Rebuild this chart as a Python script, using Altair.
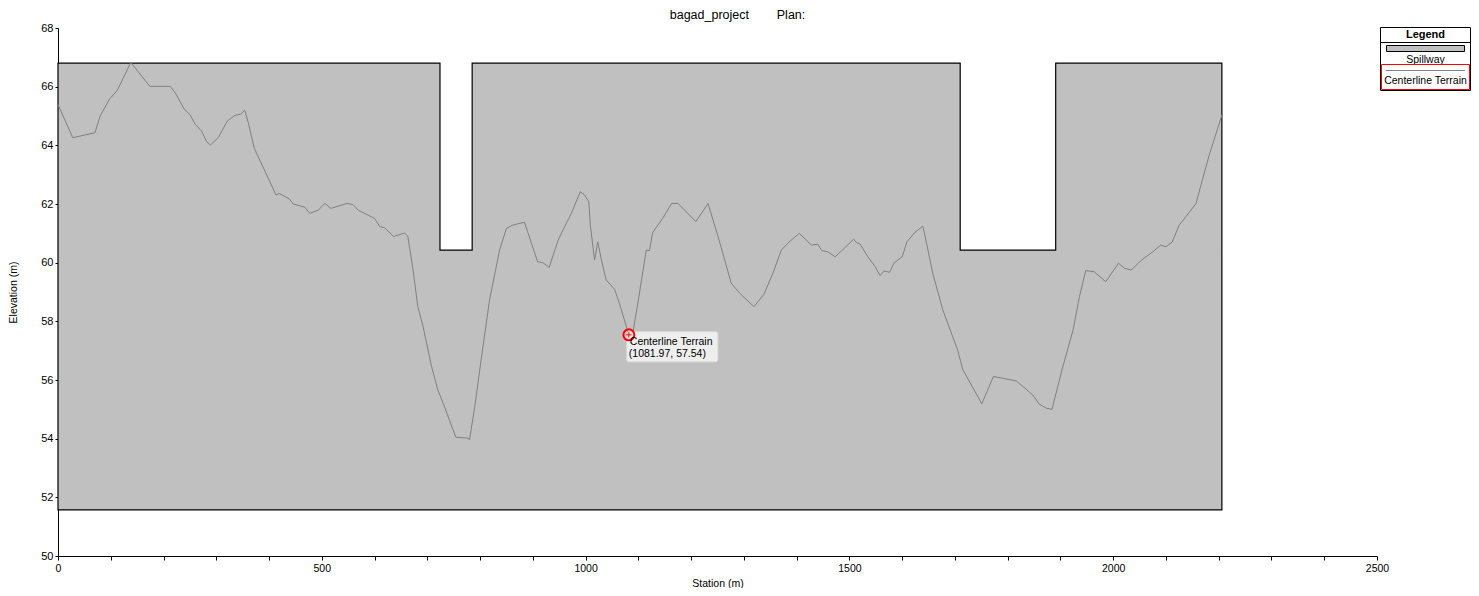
import altair as alt
import pandas as pd

# centerline terrain profile (station m, elevation m)
station = [0, 28, 70, 80, 98, 112, 138, 174, 213, 224, 239, 250, 260, 272, 282,
           289, 304, 321, 335, 346, 354, 361, 372, 400, 413, 419, 438, 446, 468,
           477, 493, 506, 517, 548, 559, 569, 600, 610, 619, 636, 657, 663, 673,
           682, 692, 708, 720, 730, 754, 777, 780, 790, 802, 818, 837, 850, 862,
           884, 890, 909, 919, 931, 948, 957, 973, 990, 998, 1006, 1009, 1017,
           1023, 1030, 1039, 1055, 1064, 1081.97, 1090, 1099, 1115, 1121, 1127,
           1146, 1163, 1175, 1209, 1232, 1254, 1276, 1292, 1319, 1338, 1355,
           1371, 1386, 1405, 1428, 1440, 1448, 1459, 1473, 1492, 1508, 1513,
           1520, 1535, 1549, 1558, 1566, 1576, 1585, 1600, 1609, 1624, 1639,
           1642, 1658, 1677, 1705, 1715, 1751, 1773, 1816, 1835, 1850, 1859,
           1873, 1884, 1903, 1924, 1936, 1948, 1964, 1986, 2010, 2021, 2034,
           2054, 2075, 2090, 2100, 2112, 2125, 2138, 2157, 2169, 2182, 2206]
elevation = [65.39, 64.26, 64.43, 65.0, 65.59, 65.86, 66.83, 66.01, 66.01, 65.74,
             65.24, 65.05, 64.72, 64.49, 64.12, 64.01, 64.27, 64.83, 65.02, 65.06,
             65.20, 64.75, 63.90, 62.82, 62.31, 62.36, 62.18, 62.00, 61.89, 61.68,
             61.79, 62.02, 61.85, 62.02, 61.98, 61.79, 61.51, 61.23, 61.19, 60.89,
             61.01, 60.90, 59.75, 58.50, 57.82, 56.46, 55.66, 55.21, 54.05, 54.02,
             53.96, 55.10, 56.69, 58.73, 60.43, 61.17, 61.28, 61.38, 61.06, 60.03,
             60.00, 59.84, 60.77, 61.11, 61.68, 62.42, 62.31, 62.08, 61.28, 60.09,
             60.71, 60.09, 59.41, 59.09, 58.62, 57.54, 57.65, 58.62, 60.43, 60.41,
             61.02, 61.51, 62.02, 62.02, 61.40, 62.02, 60.71, 59.30, 58.96, 58.50,
             58.92, 59.64, 60.43, 60.71, 61.00, 60.60, 60.63, 60.41, 60.37, 60.20,
             60.52, 60.80, 60.69, 60.64, 60.20, 59.86, 59.56, 59.72, 59.67, 60.00,
             60.20, 60.71, 61.03, 61.24, 61.03, 59.64, 58.39, 57.03, 56.35, 55.19,
             56.12, 55.97, 55.69, 55.44, 55.19, 55.04, 55.00, 56.35, 57.71, 58.84,
             59.73, 59.69, 59.35, 59.98, 59.81, 59.75, 60.09, 60.37, 60.60, 60.54,
             60.71, 61.28, 61.57, 62.02, 62.82, 63.67, 65.03]

# spillway section: top edge with the two notches, flat bottom
spill_station = [0, 724, 724, 785, 785, 1710, 1710, 1891, 1891, 2206]
spill_top = [66.8, 66.8, 60.43, 60.43, 66.8, 66.8, 60.43, 60.43, 66.8, 66.8]
spill_bottom = 51.57

# probed point on the terrain line
probe_station = 1081.97
probe_elev = 57.54
probe_name = "Centerline Terrain"

x_ticks = list(range(0, 2501, 100))
y_ticks = list(range(50, 69))

legend_title = "Legend"
legend_labels = ["Spillway", "Centerline Terrain"]

FONT = "Liberation Sans"

terrain = pd.DataFrame({"station": station, "elevation": elevation})
spill = pd.DataFrame({
    "station": spill_station,
    "top": spill_top,
    "bottom": spill_bottom,
})
probe = pd.DataFrame({
    "station": [probe_station],
    "elevation": [probe_elev],
    "name": [probe_name],
    "coords": [f"({probe_station:.2f}, {probe_elev:.2f})"],
})
one = pd.DataFrame({"k": [0]})

x_scale = alt.Scale(domain=[0, 2500], nice=False, zero=False)
y_scale = alt.Scale(domain=[50, 68], nice=False, zero=False)

x_axis = alt.Axis(
    values=x_ticks, format="d",
    labelExpr="datum.value % 500 == 0 ? datum.label : ''",
    title="Station (m)", tickSize=4, labelPadding=3, labelFlush=False,
    labelFontSize=10.5, grid=False, titleX=659.5, titleY=27,
    titleBaseline="middle",
)
y_axis = alt.Axis(
    values=y_ticks, format="d",
    labelExpr="datum.value % 2 == 0 ? datum.label : ''",
    title="Elevation (m)", tickSize=3, labelPadding=2, labelFlush=False,
    labelFontSize=11, grid=False, titleX=-44.5, titleY=264, titleAngle=270,
    titleBaseline="middle",
)

# spillway polygon (ties in station keep their input order)
spillway = alt.Chart(spill).mark_area(
    fill="#C0C0C0", stroke="black", strokeWidth=1.2, opacity=1
).encode(
    x=alt.X("station:Q", scale=x_scale, axis=x_axis),
    y=alt.Y("top:Q", scale=y_scale, axis=y_axis),
    y2="bottom:Q",
)

# terrain line
line = alt.Chart(terrain).mark_line(color="#808080", strokeWidth=1).encode(
    x="station:Q",
    y="elevation:Q",
)

# probe annotation
probe_box = alt.Chart(probe).mark_rect(
    fill="#F6F6F6", fillOpacity=0.85, stroke="#DDDDDD", strokeWidth=1,
    cornerRadius=2, xOffset=-2, x2Offset=89, yOffset=-3, y2Offset=27,
).encode(x="station:Q", x2="station:Q", y="elevation:Q", y2="elevation:Q")

probe_ring = alt.Chart(probe).mark_point(
    shape="circle", size=121, filled=False, color="#FF0000", strokeWidth=2, opacity=1
).encode(x="station:Q", y="elevation:Q")

probe_cross = alt.Chart(probe).mark_point(
    shape="M-1,0H1M0,-1V1", size=30, filled=False, color="#FF0000", strokeWidth=1, opacity=1
).encode(x="station:Q", y="elevation:Q")

probe_name_txt = alt.Chart(probe).mark_text(
    align="left", baseline="middle", dx=1, dy=7, font=FONT, fontSize=10.5, color="black"
).encode(x="station:Q", y="elevation:Q", text="name:N")

probe_xy_txt = alt.Chart(probe).mark_text(
    align="left", baseline="middle", dx=0, dy=19, font=FONT, fontSize=10.5, color="black"
).encode(x="station:Q", y="elevation:Q", text="coords:N")

# legend box (drawn by hand, top right outside the plot)
leg_box = alt.Chart(one).mark_rect(fill="white", stroke="black", strokeWidth=1).encode(
    x=alt.value(1322.5), x2=alt.value(1412.5), y=alt.value(-0.5), y2=alt.value(62.5)
)
leg_head = alt.Chart(one).mark_text(
    font=FONT, fontSize=11, fontWeight="bold", color="black", baseline="middle"
).encode(x=alt.value(1367.5), y=alt.value(6.5), text=alt.value(legend_title))
leg_sep = alt.Chart(one).mark_rule(color="black", strokeWidth=1).encode(
    x=alt.value(1322.5), x2=alt.value(1412.5), y=alt.value(14.5)
)
leg_swatch = alt.Chart(one).mark_rect(fill="#C0C0C0", stroke="black", strokeWidth=1).encode(
    x=alt.value(1328.5), x2=alt.value(1406.5), y=alt.value(17.5), y2=alt.value(23.5)
)
leg_spill = alt.Chart(one).mark_text(
    font=FONT, fontSize=10.5, color="black", baseline="middle"
).encode(x=alt.value(1367.5), y=alt.value(32), text=alt.value(legend_labels[0]))
leg_sel = alt.Chart(one).mark_rect(fill="transparent", stroke="#FF0000", strokeWidth=1).encode(
    x=alt.value(1323.5), x2=alt.value(1411.5), y=alt.value(36.5), y2=alt.value(61.5)
)
leg_line = alt.Chart(one).mark_rule(color="#808080", strokeWidth=1).encode(
    x=alt.value(1328), x2=alt.value(1407), y=alt.value(42.5)
)
leg_terrain = alt.Chart(one).mark_text(
    font=FONT, fontSize=10.5, color="black", baseline="middle"
).encode(x=alt.value(1367.5), y=alt.value(53), text=alt.value(legend_labels[1]))

chart = alt.layer(
    spillway, line, probe_box, probe_ring, probe_cross, probe_name_txt, probe_xy_txt,
    leg_box, leg_head, leg_sep, leg_swatch, leg_spill, leg_sel, leg_line, leg_terrain,
).properties(
    width=1319,
    height=528,
    padding={"left": 50, "top": 20, "right": 94, "bottom": 32},
    autosize=alt.AutoSizeParams(type="none"),
    title=alt.TitleParams(
        text="bagad_project" + "\u00a0" * 8 + "Plan:",
        font=FONT, fontSize=12.5, fontWeight="normal", color="black",
        anchor="middle", dx=20, offset=1,
    ),
).configure_view(
    strokeWidth=0
).configure_axis(
    domainColor="black", domainWidth=1, tickColor="black", tickWidth=1,
    labelColor="black", labelFont=FONT, titleColor="black", titleFont=FONT,
    titleFontSize=10.5, titleFontWeight="normal",
)

chart.save("out.html", embed_options={"renderer": "svg", "actions": False})
